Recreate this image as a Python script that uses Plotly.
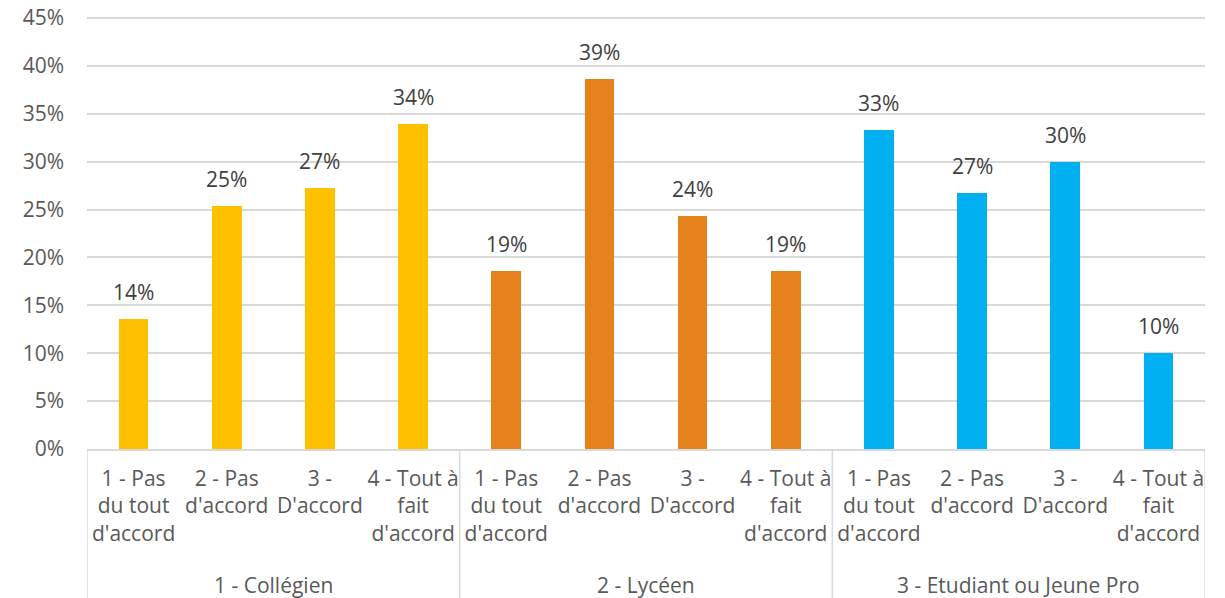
import plotly.graph_objects as go

groups = ["1 - Collégien", "2 - Lycéen", "3 - Etudiant ou Jeune Pro"]
answers = ["1 - Pas<br>du tout<br>d'accord", "2 - Pas<br>d'accord", "3 -<br>D'accord",
           "4 - Tout à<br>fait<br>d'accord"]
college = [0.136, 0.254, 0.272, 0.339]
lycee = [0.186, 0.386, 0.243, 0.186]
etudiant = [0.333, 0.267, 0.300, 0.100]
colors = ["#FFC000", "#E5821B", "#00B0F0"]

FONT = "Open Sans, sans-serif"
GREY = "#595959"
LINE = "#D9D9D9"
SIZE = 21

fig = go.Figure()
series = [college, lycee, etudiant]
n = len(answers)
for g, (vals, col) in enumerate(zip(series, colors)):
    xs = [g * n + i for i in range(n)]
    fig.add_trace(go.Bar(
        x=xs, y=vals, width=0.32, marker=dict(color=col, line=dict(width=0)),
        showlegend=False, hoverinfo="skip"))
    for x, v in zip(xs, vals):
        fig.add_annotation(x=x, y=v, xref="x", yref="y", text=f"{v:.0%}",
                           showarrow=False, yanchor="bottom", yshift=11,
                           font=dict(family=FONT, size=SIZE, color="#404040"))
    fig.add_annotation(x=g * n + (n - 1) / 2, y=-0.314, xref="x", yref="paper",
                       text=groups[g], showarrow=False, yanchor="middle",
                       font=dict(family=FONT, size=SIZE, color=GREY))

# separateurs de l'axe des categories
for k in range(len(groups) + 1):
    fig.add_shape(type="line", xref="x", yref="paper", x0=k * n - 0.5, x1=k * n - 0.5,
                  y0=0, y1=-0.36, line=dict(color=LINE, width=1.5))

tickvals = list(range(n * len(groups)))
ticktext = answers * len(groups)

# la page html a une marge de 8px autour de la figure
# (range un peu au-dessus de 45% pour que la grille du haut soit dessinee)
fig.update_layout(
    width=1217, height=590, plot_bgcolor="white", paper_bgcolor="white",
    margin=dict(l=79, r=20, t=8, b=149),
    font=dict(family=FONT, size=SIZE, color=GREY),
    bargap=0,
    xaxis=dict(range=[-0.5, n * len(groups) - 0.5], tickvals=tickvals, ticktext=ticktext,
               showgrid=False, zeroline=False, showline=True, linecolor=LINE, linewidth=1.5,
               ticks="", ticklabelstandoff=10, automargin=False,
               tickfont=dict(family=FONT, size=SIZE, color=GREY)),
    yaxis=dict(range=[0, 0.452], dtick=0.05, tickformat=".0%", showgrid=True,
               gridcolor=LINE, gridwidth=1.5, zeroline=False, showline=False,
               ticks="", ticklabelstandoff=22, automargin=False, ticklabeloverflow="allow",
               tickfont=dict(family=FONT, size=SIZE, color=GREY)),
)

fig.write_html("out.html")
